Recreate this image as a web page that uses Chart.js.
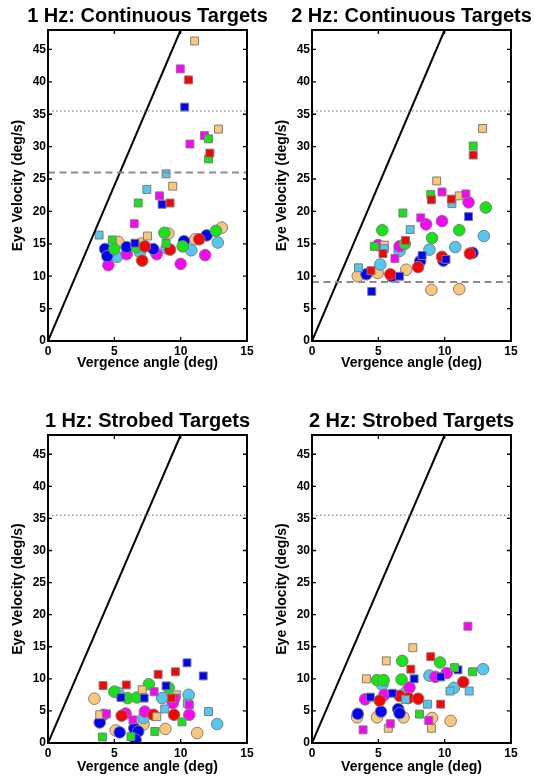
<!DOCTYPE html>
<html>
<head>
<meta charset="utf-8">
<script src="https://cdn.jsdelivr.net/npm/chart.js@4.4.1/dist/chart.umd.min.js"></script>
<style>
  html, body { margin: 0; padding: 0; background: #fff; }
  body { width: 535px; height: 777px; position: relative; overflow: hidden; }
  canvas { position: absolute; }
</style>
</head>
<body>
<canvas id="cont1" width="290" height="385" style="left:0px;top:0px;width:290px;height:385px"></canvas>
<canvas id="cont2" width="290" height="385" style="left:264px;top:0px;width:290px;height:385px"></canvas>
<canvas id="strob1" width="290" height="385" style="left:0px;top:405px;width:290px;height:385px"></canvas>
<canvas id="strob2" width="290" height="385" style="left:264px;top:405px;width:290px;height:385px"></canvas>
<script>
// Subjects: 0 red, 1 green, 2 blue, 3 magenta, 4 cyan, 5 orange
const subjects = ['S1', 'S2', 'S3', 'S4', 'S5', 'S6'];

// Axis ticks
const xTicks = [0, 5, 10, 15];
const yTicks = [0, 5, 10, 15, 20, 25, 30, 35, 40, 45];

// Geometric limit line: [vergence, velocity]
const limitLine = [[0, 0], [10, 48]];
const saturationVelocity = 35.5;           // dotted line
const cont1Threshold = 26.0;               // dashed line, 1 Hz continuous
const cont2Threshold = 9.1;                // dashed line, 2 Hz continuous

// Points: [subject, vergence angle (deg), eye velocity (deg/s)]
const cont1Squares = [
  [5, 11.05, 46.3], [3, 9.97, 42.0], [0, 10.6, 40.3], [2, 10.3, 36.1],
  [5, 12.85, 32.7], [3, 11.8, 31.7], [1, 12.1, 31.2], [3, 10.7, 30.4],
  [0, 12.2, 29.0], [1, 12.1, 28.1], [4, 8.9, 25.8], [5, 9.4, 23.9],
  [4, 7.45, 23.4], [3, 8.4, 22.4], [1, 6.8, 21.3], [2, 8.6, 21.1],
  [0, 9.2, 21.3], [3, 6.5, 18.1], [4, 3.85, 16.35], [5, 7.5, 16.2],
  [1, 4.85, 15.6], [2, 6.55, 15.1], [1, 8.9, 15.05]
];
const cont1Circles = [
  [2, 4.3, 14.2], [2, 4.47, 13.1], [3, 4.55, 11.7], [1, 5.0, 14.2],
  [5, 5.3, 15.3], [4, 5.2, 13.0], [2, 5.93, 14.5], [3, 5.93, 13.4],
  [1, 6.68, 14.5], [5, 7.06, 15.05], [0, 7.3, 14.6], [4, 6.93, 13.7],
  [0, 7.1, 12.4], [2, 7.94, 14.2], [3, 8.19, 13.4], [1, 8.77, 16.7],
  [5, 9.07, 16.6], [4, 8.94, 14.3], [0, 9.2, 14.1], [3, 10.0, 11.9],
  [1, 10.15, 14.6], [2, 10.25, 15.4], [4, 10.8, 14.0], [0, 11.4, 15.7],
  [5, 11.1, 15.7], [2, 11.96, 16.3], [3, 11.85, 13.25], [1, 12.66, 17.0],
  [5, 13.1, 17.5], [4, 12.8, 15.2]
];

const cont2Squares = [
  [5, 12.85, 32.8], [1, 12.15, 30.1], [0, 12.15, 28.7], [5, 9.4, 24.7],
  [3, 9.8, 23.0], [1, 8.95, 22.6], [0, 9.0, 21.8], [0, 10.5, 21.9],
  [5, 11.1, 22.4], [3, 11.6, 22.7], [4, 10.55, 21.2], [2, 11.8, 19.2],
  [1, 6.85, 19.75], [3, 8.2, 19.0], [4, 7.4, 17.2], [0, 7.05, 15.5],
  [1, 4.7, 14.6], [5, 5.45, 14.8], [4, 5.45, 14.25], [0, 5.35, 13.5],
  [3, 6.25, 12.75], [4, 3.5, 11.3], [0, 4.45, 10.85], [2, 4.5, 7.65],
  [2, 6.6, 10.0], [2, 8.3, 13.2], [2, 10.1, 12.6]
];
const cont2Circles = [
  [5, 3.45, 10.0], [2, 4.1, 10.3], [5, 4.95, 10.5], [4, 5.15, 11.8],
  [1, 5.3, 17.1], [3, 4.98, 14.8], [0, 5.9, 10.3], [2, 6.0, 10.0],
  [5, 7.1, 11.0], [1, 7.0, 15.0], [3, 6.6, 14.6], [4, 6.6, 13.9],
  [0, 8.0, 11.4], [2, 8.15, 12.3], [4, 8.85, 14.1], [1, 9.05, 15.9],
  [3, 8.6, 18.0], [3, 9.8, 18.5], [0, 9.8, 13.0], [2, 9.9, 12.4],
  [5, 9.0, 7.9], [5, 11.1, 8.0], [1, 11.1, 17.1], [4, 10.8, 14.5],
  [3, 11.8, 21.4], [0, 11.9, 13.5], [2, 12.1, 13.6], [1, 13.1, 20.6],
  [4, 12.95, 16.2]
];

const strob1Squares = [
  [2, 10.48, 12.5], [0, 9.6, 11.1], [0, 8.3, 10.7], [2, 11.7, 10.45],
  [0, 4.15, 8.95], [0, 5.9, 9.05], [5, 7.1, 8.3], [2, 8.9, 8.9],
  [3, 8.0, 8.0], [2, 5.5, 7.1], [2, 7.25, 7.0], [5, 9.7, 7.5],
  [0, 9.3, 7.0], [3, 9.6, 7.0], [4, 10.5, 6.2], [3, 10.65, 5.95],
  [4, 8.8, 5.3], [4, 12.1, 4.9], [5, 3.9, 4.4], [3, 4.4, 4.55],
  [3, 6.4, 3.6], [5, 8.2, 4.1], [1, 10.1, 3.3], [1, 4.1, 0.93],
  [1, 6.25, 1.0], [1, 8.05, 1.8]
];
const strob1Circles = [
  [5, 3.5, 6.9], [2, 3.9, 3.2], [1, 5.0, 8.0], [4, 5.3, 7.8],
  [1, 6.0, 7.0], [1, 6.7, 7.1], [3, 4.2, 4.4], [0, 5.55, 4.25],
  [3, 5.85, 4.6], [2, 5.4, 1.65], [5, 5.1, 1.95], [2, 6.5, 2.3],
  [2, 6.8, 1.8], [2, 6.6, 0.5], [5, 7.2, 2.9], [4, 7.2, 3.9],
  [3, 7.3, 4.9], [0, 7.95, 4.4], [1, 7.6, 9.15], [1, 9.1, 8.6],
  [4, 8.6, 7.0], [3, 9.4, 6.2], [0, 9.5, 4.4], [5, 8.85, 2.2],
  [3, 10.65, 4.4], [4, 10.6, 7.5], [5, 11.25, 1.55], [4, 12.75, 2.95]
];

const strob2Squares = [
  [3, 11.75, 18.2], [5, 7.6, 14.85], [0, 8.95, 13.45], [5, 5.6, 12.8],
  [0, 7.45, 11.5], [1, 10.75, 11.75], [2, 11.0, 11.4], [1, 12.1, 11.1],
  [5, 4.1, 10.0], [2, 7.7, 10.0], [2, 9.7, 10.3], [4, 11.85, 8.1],
  [4, 10.4, 8.1], [2, 4.4, 7.15], [2, 6.05, 7.75], [4, 7.05, 6.8],
  [0, 9.7, 6.05], [4, 8.7, 6.05], [1, 8.1, 4.5], [3, 5.9, 3.0],
  [5, 5.75, 2.3], [3, 3.85, 2.05], [5, 9.0, 2.3], [3, 8.8, 3.5]
];
const strob2Circles = [
  [1, 6.8, 12.8], [1, 9.65, 12.55], [1, 4.9, 9.8], [1, 5.4, 9.8],
  [1, 6.75, 9.9], [4, 5.3, 9.05], [4, 8.85, 10.5], [3, 9.3, 10.3],
  [3, 10.15, 10.9], [4, 12.9, 11.5], [0, 11.4, 9.5], [4, 10.7, 8.6],
  [4, 7.1, 8.0], [3, 7.35, 8.65], [0, 6.6, 7.35], [0, 7.25, 7.0],
  [0, 8.0, 6.9], [0, 5.1, 6.6], [3, 4.0, 6.8], [3, 5.45, 7.5],
  [2, 3.45, 4.55], [5, 3.4, 4.0], [2, 5.2, 4.9], [5, 4.9, 4.0],
  [2, 6.5, 5.3], [2, 6.6, 4.65], [5, 6.9, 4.0], [5, 9.05, 3.9],
  [5, 10.45, 3.45]
];

// ---- styling ----
const subjectColors = ['#ff0000', '#14e614', '#0000ff', '#ff00ff', '#50c8f2', '#fcc778'];
const FONT = "'Liberation Sans', Arial, Helvetica, sans-serif";

// Matlab-style box: frame plus inward ticks on all four sides
const boxAxes = {
  id: 'boxAxes',
  afterDatasetsDraw(chart) {
    const { ctx, chartArea: a, scales: { x, y } } = chart;
    const len = 4;
    ctx.save();
    ctx.strokeStyle = '#000';
    ctx.lineWidth = 1.3;
    ctx.beginPath();
    x.ticks.forEach(t => {
      const px = x.getPixelForValue(t.value);
      ctx.moveTo(px, a.bottom); ctx.lineTo(px, a.bottom - len);
      ctx.moveTo(px, a.top); ctx.lineTo(px, a.top + len);
    });
    y.ticks.forEach(t => {
      const py = y.getPixelForValue(t.value);
      ctx.moveTo(a.left, py); ctx.lineTo(a.left + len, py);
      ctx.moveTo(a.right, py); ctx.lineTo(a.right - len, py);
    });
    ctx.stroke();
    ctx.lineWidth = 2;
    ctx.strokeRect(a.left, a.top, a.right - a.left, a.bottom - a.top);
    ctx.restore();
  }
};

// Panel heading, centred over the plotting box
const panelTitle = {
  id: 'panelTitle',
  afterDraw(chart, args, opts) {
    const { ctx, chartArea: a } = chart;
    ctx.save();
    ctx.fillStyle = '#000';
    ctx.font = 'bold 20px ' + FONT;
    ctx.textAlign = 'center';
    ctx.textBaseline = 'middle';
    ctx.fillText(opts.text, (a.left + a.right) / 2, opts.y);
    ctx.restore();
  }
};

function markerSets(points, style, radius) {
  return subjects.map((name, s) => ({
    label: name + ' ' + style,
    data: points.filter(p => p[0] === s).map(p => ({ x: p[1], y: p[2] })),
    pointStyle: style,
    pointRadius: radius,
    pointBackgroundColor: subjectColors[s],
    pointBorderColor: '#7d7d7d',
    pointBorderWidth: 1,
    showLine: false
  }));
}

function hLine(value, dash, color, width) {
  return {
    label: 'ref',
    data: [{ x: 0, y: value }, { x: 15, y: value }],
    showLine: true,
    borderColor: color,
    borderWidth: width,
    borderDash: dash,
    pointRadius: 0
  };
}

function makePanel(id, title, squares, circles, threshold, xTitleOffset) {
  const datasets = [];
  datasets.push(hLine(saturationVelocity, [1.5, 2.5], '#9a9a9a', 1.5));
  if (threshold !== null) datasets.push(hLine(threshold, [7, 4.5], '#8c8c8c', 2));
  datasets.push({
    label: 'limit',
    data: limitLine.map(p => ({ x: p[0], y: p[1] })),
    showLine: true,
    borderColor: '#000',
    borderWidth: 2,
    pointRadius: 0
  });
  datasets.push(...markerSets(squares, 'rect', 5.6));
  datasets.push(...markerSets(circles, 'circle', 5.8));

  const areaBottomInCanvas = id.startsWith('cont') ? 341 : 338;
  const axisHeight = xTitleOffset + 8.4;
  const bottomPad = 385 - areaBottomInCanvas - axisHeight;

  new Chart(document.getElementById(id), {
    type: 'scatter',
    data: { datasets },
    options: {
      responsive: false,
      animation: false,
      events: [],
      layout: { autoPadding: false, padding: { left: 0, right: 43, top: 30, bottom: bottomPad } },
      plugins: {
        legend: { display: false },
        tooltip: { enabled: false },
        title: { display: false },
        panelTitle: { text: title, y: 16 }
      },
      scales: {
        x: {
          type: 'linear',
          min: 0, max: 15,
          afterBuildTicks: s => { s.ticks = xTicks.map(v => ({ value: v })); },
          ticks: { color: '#000', padding: 3, maxRotation: 0, font: { family: FONT, size: 12, weight: 'bold' } },
          grid: { display: false, drawTicks: false },
          border: { display: false },
          title: {
            display: true, text: 'Vergence angle (deg)', color: '#000',
            font: { family: FONT, size: 14, weight: 'bold', lineHeight: 1.2 },
            padding: { top: 0, bottom: 0 }
          },
          afterFit: s => { s.height = axisHeight; s.paddingLeft = 0; s.paddingRight = 0; }
        },
        y: {
          type: 'linear',
          min: 0, max: 48,
          afterBuildTicks: s => { s.ticks = yTicks.map(v => ({ value: v })); },
          ticks: { color: '#000', padding: 2, font: { family: FONT, size: 12, weight: 'bold' } },
          grid: { display: false, drawTicks: false },
          border: { display: false },
          title: {
            display: true, text: 'Eye Velocity (deg/s)', color: '#000',
            font: { family: FONT, size: 14, weight: 'bold', lineHeight: 1.2 },
            padding: { top: 9.6, bottom: 0 }
          },
          afterFit: s => { s.width = 48; s.paddingTop = 0; s.paddingBottom = 0; }
        }
      }
    },
    plugins: [boxAxes, panelTitle]
  });
}

makePanel('cont1', '1 Hz: Continuous Targets', cont1Squares, cont1Circles, cont1Threshold, 22.5);
makePanel('cont2', '2 Hz: Continuous Targets', cont2Squares, cont2Circles, cont2Threshold, 22.5);
makePanel('strob1', '1 Hz: Strobed Targets', strob1Squares, strob1Circles, null, 24.5);
makePanel('strob2', '2 Hz: Strobed Targets', strob2Squares, strob2Circles, null, 24.5);
</script>
</body>
</html>
